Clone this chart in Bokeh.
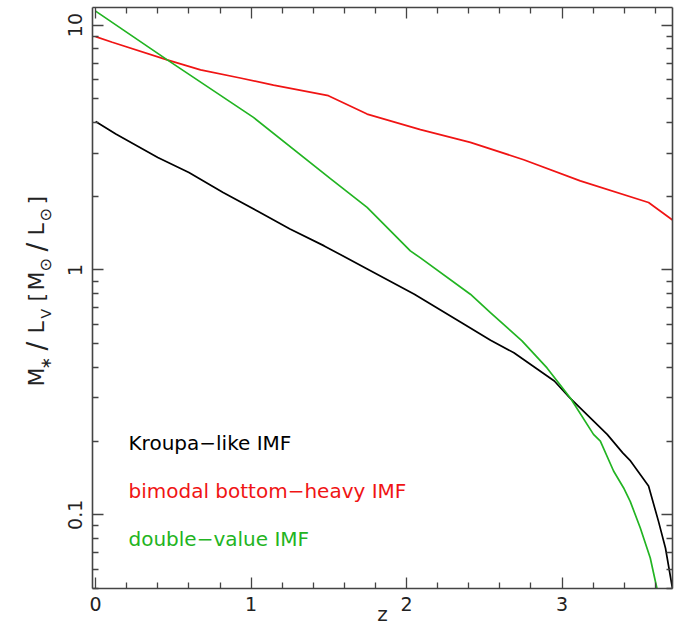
import math
from bokeh.plotting import figure
from bokeh.layouts import row
from bokeh.models import Range1d, LinearAxis, LogAxis, FixedTicker, Label, CustomJSTickFormatter
from bokeh.embed import file_html
from bokeh.resources import INLINE

# ---------------- data ----------------
z_kroupa = [0.0, 0.13, 0.40, 0.60, 0.82, 1.04, 1.25, 1.47, 1.75, 2.05, 2.37, 2.54,
            2.69, 2.95, 3.05, 3.29, 3.39, 3.44, 3.556, 3.62, 3.665, 3.71]
ml_kroupa = [4.04, 3.59, 2.88, 2.50, 2.07, 1.74, 1.47, 1.254, 1.007, 0.796, 0.600, 0.516,
             0.459, 0.352, 0.300, 0.213, 0.179, 0.166, 0.131, 0.094, 0.073, 0.050]

z_bimodal = [0.0, 0.107, 0.46, 0.675, 0.93, 1.144, 1.497, 1.746, 2.089, 2.41, 2.753,
             3.117, 3.556, 3.71]
ml_bimodal = [8.97, 8.51, 7.21, 6.56, 6.08, 5.69, 5.15, 4.33, 3.74, 3.32, 2.82,
              2.31, 1.885, 1.60]

z_double = [0.0, 0.461, 1.015, 1.51, 1.746, 2.024, 2.089, 2.41, 2.539, 2.742, 2.903,
            3.053, 3.202, 3.246, 3.331, 3.395, 3.438, 3.503, 3.567, 3.61]
ml_double = [11.4, 7.21, 4.20, 2.36, 1.80, 1.196, 1.12, 0.796, 0.669, 0.513, 0.398,
             0.300, 0.213, 0.200, 0.151, 0.129, 0.1135, 0.0883, 0.0666, 0.050]

series_names = ["Kroupa\u2212like IMF", "bimodal bottom\u2212heavy IMF", "double\u2212value IMF"]
series_colors = ["#000000", "#f01414", "#22b422"]

x_major = [0, 1, 2, 3]
x_minor = [0.2, 0.4, 0.6, 0.8, 1.2, 1.4, 1.6, 1.8, 2.2, 2.4, 2.6, 2.8, 3.2, 3.4, 3.6]
y_major = [0.1, 1, 10]
y_labels = ["0.1", "1", "10"]
y_minor = [0.05, 0.06, 0.07, 0.08, 0.09, 0.2, 0.3, 0.4, 0.5, 0.6, 0.7, 0.8, 0.9,
           2, 3, 4, 5, 6, 7, 8, 9]
x_title = "z"

FONT = "DejaVu Sans"
AX = "#444444"
TXT = "#222222"
TOP, BOT = 7, 43

# ---------------- main figure ----------------
p = figure(width=615, height=631,
           x_range=Range1d(-0.02, 3.71), y_range=Range1d(0.05, 11.8),
           y_axis_type="log", output_backend="svg", toolbar_location=None,
           min_border_left=32, min_border_right=3, min_border_top=TOP, min_border_bottom=BOT)
p.grid.visible = False
p.outline_line_color = None
p.background_fill_color = "white"
p.border_fill_color = "white"

p.add_layout(LinearAxis(), "above")
p.add_layout(LogAxis(), "right")


def style_axis(ax, ticker, show_labels):
    ax.ticker = ticker
    ax.axis_line_color = AX
    ax.axis_line_width = 1.6
    ax.major_tick_line_color = AX
    ax.minor_tick_line_color = AX
    ax.major_tick_line_width = 1.3
    ax.minor_tick_line_width = 1.3
    ax.major_tick_in = 11
    ax.major_tick_out = 0
    ax.minor_tick_in = 6
    ax.minor_tick_out = 0
    ax.major_label_text_font = FONT
    ax.major_label_text_color = TXT
    ax.major_label_text_font_size = "19px"
    ax.major_label_standoff = 8
    if not show_labels:
        ax.formatter = CustomJSTickFormatter(code="return ''")
        ax.major_label_standoff = 0


xt = FixedTicker(ticks=x_major, minor_ticks=x_minor)
yt = FixedTicker(ticks=y_major, minor_ticks=y_minor)

for ax in p.below:
    style_axis(ax, xt, True)
    ax.axis_label = x_title
    ax.axis_label_text_font = FONT
    ax.axis_label_text_font_size = "20px"
    ax.axis_label_text_font_style = "normal"
    ax.axis_label_text_color = TXT
    ax.axis_label_standoff = -12
for ax in p.above:
    style_axis(ax, xt, False)
for ax in p.left:
    style_axis(ax, yt, True)
    ax.major_label_standoff = 10
    ax.major_label_orientation = "vertical"
    ax.major_label_overrides = {v: s for v, s in zip(y_major, y_labels)}
for ax in p.right:
    style_axis(ax, yt, False)

for zs, ms, c in [(z_kroupa, ml_kroupa, series_colors[0]),
                  (z_bimodal, ml_bimodal, series_colors[1]),
                  (z_double, ml_double, series_colors[2])]:
    p.line(zs, ms, line_color=c, line_width=1.7)

# in-plot legend texts (screen units relative to the frame)
legend_y = [146, 98, 50]
for name, c, yy in zip(series_names, series_colors, legend_y):
    p.add_layout(Label(x=36, y=yy, x_units="screen", y_units="screen", text=name,
                       text_color=c, text_font=FONT, text_font_size="20px",
                       text_align="left", text_baseline="alphabetic"))

# ---------------- y-axis title (left strip, same vertical frame as the plot) ----------------
left = figure(width=60, height=631, x_range=Range1d(0, 60), y_range=Range1d(0, 581),
              x_axis_location=None, y_axis_location=None, output_backend="svg",
              toolbar_location=None, min_border_left=0, min_border_right=0,
              min_border_top=TOP, min_border_bottom=BOT)
left.grid.visible = False
left.xgrid.grid_line_color = None
left.ygrid.grid_line_color = None
left.outline_line_color = None
left.background_fill_color = "white"
left.border_fill_color = "white"

# (text, start position in px from top of window, size, is_sub)
ylab_pieces = [("M", 386, 22, False), ("\u2217", 369, 15, True), ("/", 350, 26, False),
               ("L", 333, 22, False), ("V", 318, 14, True), ("[", 301, 22, False),
               ("M", 290, 22, False), ("\u2299", 271, 16, True), ("/", 251, 26, False),
               ("L", 235, 22, False), ("\u2299", 221, 16, True), ("]", 204, 22, False)]
for txt, pos, size, sub in ylab_pieces:
    base_x = 45 if sub else 36
    left.add_layout(Label(x=base_x, y=(631 - BOT) - pos, x_units="screen", y_units="screen",
                          text=txt, angle=math.pi / 2, text_color=TXT, text_font=FONT,
                          text_font_size=f"{size}px", text_align="left",
                          text_baseline="alphabetic"))

layout = row(left, p, spacing=0)
open("out.html", "w").write(file_html(layout, INLINE))
